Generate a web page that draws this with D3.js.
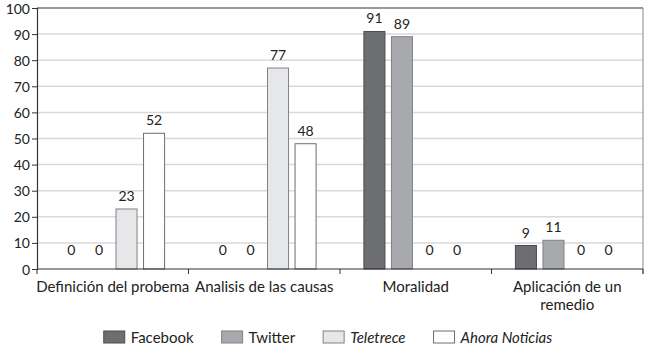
<!DOCTYPE html>
<html>
<head>
<meta charset="utf-8">
<script src="https://cdn.jsdelivr.net/npm/d3@7"></script>
<style>
  body { margin: 0; background: #fff; }
  svg { display: block; }
</style>
</head>
<body>
<div id="chart"></div>
<script>
  // ── Data ──
  var CATEGORIES = [['Definición del probema'], ['Analisis de las causas'], ['Moralidad'], ['Aplicación de un', 'remedio']];
  var SERIES = ['Facebook', 'Twitter', 'Teletrece', 'Ahora Noticias'];
  var FACEBOOK = [0, 0, 91, 9];
  var TWITTER = [0, 0, 89, 11];
  var TELETRECE = [23, 77, 0, 0];
  var AHORA = [52, 48, 0, 0];
  var Y_TICKS = [0, 10, 20, 30, 40, 50, 60, 70, 80, 90, 100];

  // ── Style ──
  var W = 649, H = 351;
  var MARGIN = { top: 8, right: 6, bottom: 82, left: 37 };
  var FONT = 'Lato, "Open Sans", sans-serif';
  var FILLS = ['#6d6e71', '#a7a9ac', '#e6e7e8', '#ffffff'];
  var STROKES = ['#4d4d4f', '#808285', '#808285', '#6d6e71'];
  var ITALIC = [false, false, true, true];
  var GRID = '#d9d9d9';
  var AXIS = '#333';

  var values = [FACEBOOK, TWITTER, TELETRECE, AHORA];
  var rows = CATEGORIES.map(function (c, i) {
    return { key: i, label: c, vals: SERIES.map(function (s, j) { return { s: j, v: values[j][i] }; }) };
  });

  var plotW = W - MARGIN.left - MARGIN.right;
  var plotH = H - MARGIN.top - MARGIN.bottom;

  var svg = d3.select('#chart').append('svg').attr('width', W).attr('height', H);
  var g = svg.append('g').attr('transform', 'translate(' + MARGIN.left + ',' + MARGIN.top + ')');

  var x0 = d3.scaleBand().domain(d3.range(CATEGORIES.length)).range([0, plotW]);
  var x1 = d3.scaleBand().domain(d3.range(SERIES.length)).range([0, x0.bandwidth()])
    .paddingInner(0.2).paddingOuter(0.85);
  var y = d3.scaleLinear().domain([0, 100]).range([plotH, 0]);

  // grid
  g.selectAll('.grid').data(Y_TICKS.slice(1, -1)).join('line')
    .attr('x1', 0).attr('x2', plotW)
    .attr('y1', function (d) { return y(d); }).attr('y2', function (d) { return y(d); })
    .attr('stroke', GRID).attr('stroke-width', 1.5);

  // frame top and right
  g.append('line').attr('x1', 0).attr('x2', plotW).attr('y1', y(100)).attr('y2', y(100))
    .attr('stroke', AXIS).attr('stroke-width', 1.2);
  g.append('line').attr('x1', plotW).attr('x2', plotW).attr('y1', y(100)).attr('y2', plotH + 5)
    .attr('stroke', '#888').attr('stroke-width', 1);

  // y axis
  var yG = g.append('g').call(d3.axisLeft(y).tickValues(Y_TICKS).tickSize(5).tickPadding(2));
  yG.select('.domain').attr('stroke', AXIS).attr('stroke-width', 1.2);
  yG.selectAll('.tick line').attr('stroke', AXIS);
  yG.selectAll('.tick text').attr('fill', '#222').attr('font-size', '14px').attr('font-family', FONT)
    .attr('dy', '0.36em');

  // bars
  var groups = g.selectAll('.grp').data(rows).join('g')
    .attr('transform', function (d) { return 'translate(' + x0(d.key) + ',0)'; });

  groups.selectAll('rect').data(function (d) { return d.vals.filter(function (e) { return e.v > 0; }); })
    .join('rect')
    .attr('x', function (d) { return x1(d.s) + 0.5; })
    .attr('y', function (d) { return y(d.v); })
    .attr('width', x1.bandwidth() - 1)
    .attr('height', function (d) { return y(0) - y(d.v); })
    .attr('fill', function (d) { return FILLS[d.s]; })
    .attr('stroke', function (d) { return STROKES[d.s]; })
    .attr('stroke-width', 1);

  groups.selectAll('.val').data(function (d) { return d.vals; }).join('text')
    .attr('x', function (d) { return x1(d.s) + x1.bandwidth() / 2; })
    .attr('y', function (d) { return Math.min(y(d.v) - 8, y(0) - 14); })
    .attr('text-anchor', 'middle')
    .attr('font-size', '14px').attr('font-family', FONT).attr('fill', '#222')
    .text(function (d) { return d.v; });

  // x axis
  g.append('line').attr('x1', 0).attr('x2', plotW).attr('y1', plotH).attr('y2', plotH)
    .attr('stroke', AXIS).attr('stroke-width', 1.2);
  var bounds = d3.range(CATEGORIES.length + 1).map(function (i) { return i * x0.step(); });
  g.selectAll('.xtick').data(bounds).join('line')
    .attr('x1', function (d) { return d; }).attr('x2', function (d) { return d; })
    .attr('y1', plotH).attr('y2', plotH + 5)
    .attr('stroke', AXIS);

  var xl = g.selectAll('.xlab').data(rows).join('text')
    .attr('text-anchor', 'middle')
    .attr('font-size', '15px').attr('font-family', FONT).attr('fill', '#222')
    .attr('transform', function (d) { return 'translate(' + (x0(d.key) + x0.bandwidth() / 2) + ',' + (plotH + 23) + ')'; });
  xl.selectAll('tspan').data(function (d) { return d.label; }).join('tspan')
    .attr('x', 0).attr('dy', function (d, i) { return i ? 18 : 0; })
    .text(function (d) { return d; });

  // legend
  var legend = svg.append('g').attr('transform', 'translate(0,' + (H - 13) + ')');
  var items = legend.selectAll('g').data(SERIES).join('g');
  items.append('rect')
    .attr('width', 21).attr('height', 12).attr('y', -7)
    .attr('fill', function (d, i) { return FILLS[i]; })
    .attr('stroke', function (d, i) { return STROKES[i]; });
  items.append('text')
    .attr('x', 27).attr('y', 5)
    .attr('font-size', '15px').attr('font-family', FONT).attr('fill', '#222')
    .attr('font-style', function (d, i) { return ITALIC[i] ? 'italic' : 'normal'; })
    .text(function (d) { return d; });

  var pos = 0, offsets = [];
  items.each(function () {
    offsets.push(pos);
    pos += 27 + this.querySelector('text').getComputedTextLength() + 28;
  });
  var totalW = pos - 28;
  var startX = 328 - totalW / 2;
  items.attr('transform', function (d, i) { return 'translate(' + (startX + offsets[i]) + ',0)'; });
</script>
</body>
</html>
